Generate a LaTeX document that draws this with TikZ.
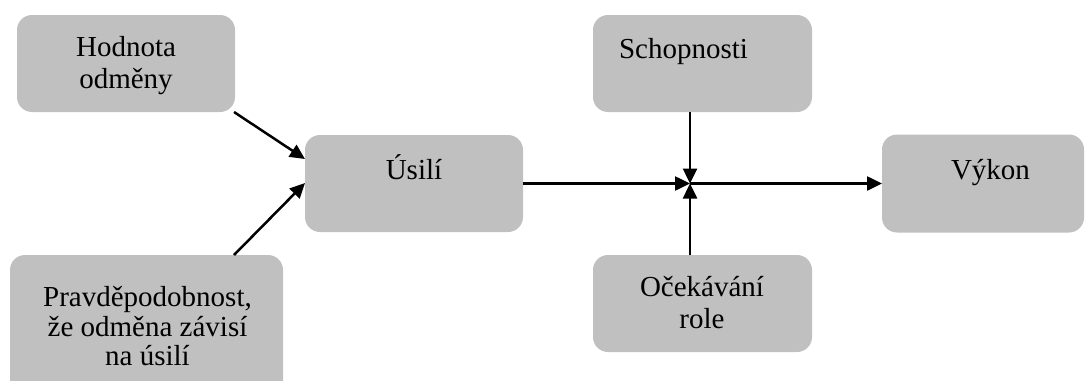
\documentclass[tikz,border=0pt]{standalone}
\usepackage{fontspec}
\setmainfont{Liberation Serif}
\usetikzlibrary{arrows.meta}
\definecolor{boxgray}{HTML}{C0C0C0}
\begin{document}
\begin{tikzpicture}[x=1pt,y=-1pt,
  box/.style={fill=boxgray, draw=none, rounded corners=15pt, inner sep=0pt, outer sep=0pt},
  txt/.style={align=center, font=\fontsize{29}{31.5}\selectfont, inner sep=0pt, anchor=base},
  arr/.style={line width=2.5pt, -{Triangle[length=15pt,width=14pt]}}]
\useasboundingbox (0,0) rectangle (1086,380);
\clip (0,0) rectangle (1086,380);
% boxes
\node[box, minimum width=218pt, minimum height=97pt] (hod) at (126,63.5) {};
\node[box, minimum width=218pt, minimum height=97pt] (usi) at (414,183.5) {};
\node[box, minimum width=273pt, minimum height=142pt] (pra) at (146.5,326) {};
\node[box, minimum width=219pt, minimum height=97pt] (sch) at (702.5,63.5) {};
\node[box, minimum width=219pt, minimum height=97pt] (oce) at (702.5,303.5) {};
\node[box, minimum width=202pt, minimum height=98pt] (vyk) at (983,183.5) {};
% texts (base anchor = baseline of last line)
\node[txt] (hodt) at (126,88) {Hodnota\\odměny};
\node[txt] (usit) at (414,179.5) {Úsilí};
\node[txt, font=\fontsize{29}{29.5}\selectfont] (prat) at (147.5,365.5) {Pravděpodobnost,\\že odměna závisí\\na úsilí};
\node[txt] (scht) at (683.5,58.3) {Schopnosti};
\node[txt] (ocet) at (702,328) {Očekávání\\role};
\node[txt] (vykt) at (990.5,179) {Výkon};
% junction
\coordinate (j) at (690,183.5);
% connectors
\draw[arr] ([xshift=-1pt]hod.south east) -- ([yshift=24.5pt]usi.west);
\draw[arr] ([xshift=87.5pt]pra.north) -- ([yshift=0.5pt]usi.west);
\draw[arr] (usi.east) -- (j);
\draw[arr] (j) -- (vyk.west);
\draw[arr] (sch.south -| j) -- (j);
\draw[arr] (oce.north -| j) -- (j);
\end{tikzpicture}
\end{document}
